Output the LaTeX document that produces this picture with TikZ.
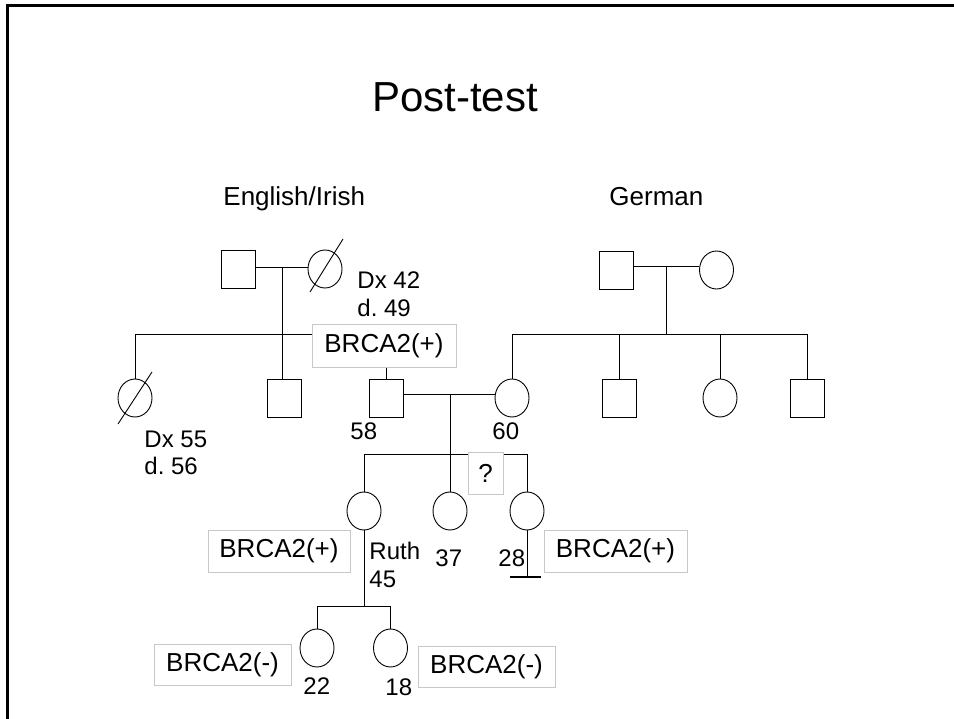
\documentclass[tikz,border=0pt]{standalone}
\usepackage{fontspec}
\setmainfont{Liberation Sans}
\usepackage{xcolor}
\usetikzlibrary{shapes.geometric}
\definecolor{boxgray}{RGB}{200, 200, 200}
\tikzset{
    person/.style={draw, line width=0.9pt, minimum width=34pt, minimum height=38pt, inner sep=0pt},
    male/.style={person, rectangle},
    female/.style={person, ellipse},
    genebox/.style={draw=boxgray, fill=white, line width=0.8pt, inner sep=0pt, font=\fontsize{26}{30}\selectfont},
    agelabel/.style={anchor=base west, inner sep=0pt, font=\fontsize{24}{28}\selectfont},
    grouplabel/.style={anchor=base west, inner sep=0pt, font=\fontsize{26}{30}\selectfont}
}
\frenchspacing
\begin{document}
\begin{tikzpicture}[x=1pt, y=-1pt, line width=0.9pt]
    \useasboundingbox (0,0) rectangle (954,719);
    \draw[line width=3pt] (7.5,719) |- (954,5.5);

    \node[anchor=base, inner sep=0pt, font=\fontsize{42}{50}\selectfont] (title) at (455,112) {Post-test};
    \node[grouplabel] (english) at (223,206) {English/Irish};
    \node[grouplabel] (german) at (609,206) {German};

    \node[male] (gf1) at (238,269) {};
    \node[female] (gm1) at (325,269) {};
    \node[male] (gf2) at (616,270) {};
    \node[female] (gm2) at (716.5,270) {};

    \node[female] (aunt1) at (135,398) {};
    \node[male] (uncle1) at (284,398) {};
    \node[male] (dad) at (386,398) {};
    \node[female] (mom) at (512,398) {};
    \node[male] (uncle2) at (619,398) {};
    \node[female] (aunt2) at (720,398) {};
    \node[male] (uncle3) at (807.5,398) {};

    \node[female] (ruth) at (364,511) {};
    \node[female] (sis37) at (450,511) {};
    \node[female] (sis28) at (527,511) {};

    \node[female] (kid22) at (317,648) {};
    \node[female] (kid18) at (390.5,648) {};

    \coordinate (m1) at (282,267);
    \coordinate (m2) at (666,266);
    \coordinate (m3) at (450,394);
    \coordinate (s1) at (0,334);
    \coordinate (s3) at (0,454);
    \coordinate (s4) at (0,606);
    \coordinate (end28) at (525.5,577);

    \draw (gf1.east |- m1) -- (gm1.west |- m1);
    \draw (m1) -- (m1 |- uncle1.north);
    \draw (aunt1.north) |- (dad.north |- s1) -- (dad.north);
    \draw (gf2.east |- m2) -- (gm2.west |- m2);
    \draw (m2) -- (m2 |- s1);
    \draw (mom.north) |- (uncle3.north |- s1) -- (uncle3.north);
    \draw (uncle2.north) -- (uncle2.north |- s1);
    \draw (aunt2.north) -- (aunt2.north |- s1);

    \draw (dad.east |- m3) -- (mom.west |- m3);
    \draw (m3) -- (m3 |- sis37.north);
    \draw (ruth.north) |- (sis28.north |- s3) -- (sis28.north);
    \draw (sis28.south) -- (sis28.south |- end28);
    \draw[line width=2pt] (end28) ++(-15.5,0) -- ++(31,0);

    \draw (ruth.south) -- (ruth.south |- s4);
    \draw (kid22.north) |- (kid18.north |- s4) -- (kid18.north);

    \draw (gm1.center) ++(-15,23) -- ++(33,-53);
    \draw (aunt1.center) ++(-17,26) -- ++(34,-52);

    \node[genebox, minimum width=144pt, minimum height=43pt] (brcadad) at (384,345.5) {BRCA2(+)};
    \node[genebox, minimum width=142pt, minimum height=42pt] (brcaruth) at (279,551) {BRCA2(+)};
    \node[genebox, minimum width=143pt, minimum height=42pt] (brca28) at (615.5,551) {BRCA2(+)};
    \node[genebox, minimum width=137pt, minimum height=41pt] (brca22) at (222.5,664.5) {BRCA2(-)};
    \node[genebox, minimum width=137pt, minimum height=41pt] (brca18) at (486.5,666.5) {BRCA2(-)};
    \node[genebox, minimum width=35pt, minimum height=42pt] (unknown) at (485.5,473) {?};

    \node[agelabel] (dx42) at (357,289) {Dx 42};
    \node[agelabel] (d49) at (357,317) {d. 49};
    \node[agelabel] (dx55) at (144,447) {Dx 55};
    \node[agelabel] (d56) at (144,475) {d. 56};
    \node[agelabel] (age58) at (350,440) {58};
    \node[agelabel] (age60) at (492,440) {60};
    \node[agelabel] (ruthname) at (369,559) {Ruth};
    \node[agelabel] (age45) at (369,587) {45};
    \node[agelabel] (age37) at (435,566) {37};
    \node[agelabel] (age28) at (498,566) {28};
    \node[agelabel] (age22) at (303,694) {22};
    \node[agelabel] (age18) at (385,695) {18};
\end{tikzpicture}
\end{document}
